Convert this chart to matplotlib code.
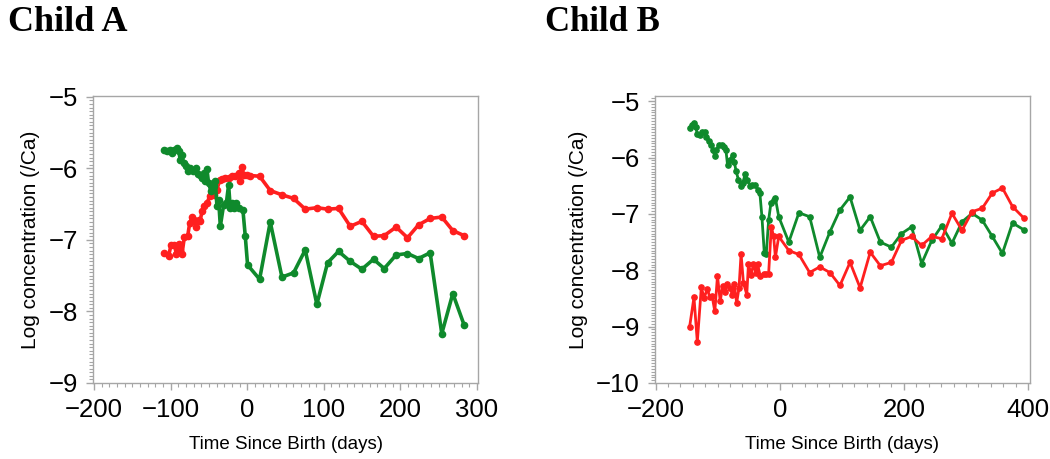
import matplotlib
matplotlib.use("Agg")
import matplotlib.pyplot as plt
import matplotlib.ticker as ticker

# ---------------- Child A ----------------
a_red_x = [-108.4, -102.7, -99.6, -95.3, -92.7, -89.6, -87.5, -85.3, -82.2, -77.9,
           -75.3, -72.2, -69.2, -66.6, -63.5, -61.4, -59.2, -57.0, -52.7, -49.2,
           -46.1, -43.1, -39.6, -36.1, -33.1, -28.7, -24.4, -20.0, -15.7, -11.3,
           -9.1, -7.0, -4.8, -0.4, 3.9, 16.1, 30.0, 45.3, 60.5, 75.7,
           90.9, 104.9, 119.2, 134.5, 149.7, 164.9, 178.9, 194.5, 209.3, 223.7,
           238.9, 254.1, 268.5, 283.3]
a_red_y = [-7.18, -7.22, -7.07, -7.07, -7.19, -7.06, -7.14, -7.20, -6.96, -6.95,
           -6.77, -6.68, -6.72, -6.82, -6.72, -6.73, -6.60, -6.53, -6.49, -6.39,
           -6.34, -6.37, -6.30, -6.16, -6.15, -6.14, -6.13, -6.11, -6.11, -6.07,
           -6.18, -5.98, -6.09, -6.09, -6.10, -6.11, -6.31, -6.37, -6.42, -6.57,
           -6.55, -6.57, -6.56, -6.81, -6.74, -6.95, -6.94, -6.82, -6.97, -6.79,
           -6.70, -6.68, -6.87, -6.94]

a_green_x = [-108.4, -104.9, -101.4, -98.3, -95.3, -91.8, -89.6, -87.5, -85.3, -83.1,
             -80.1, -77.9, -74.4, -70.9, -67.0, -64.8, -61.4, -59.2, -57.0, -54.8,
             -52.7, -50.5, -47.4, -44.0, -41.8, -39.6, -37.4, -35.2, -30.9, -27.4,
             -24.4, -22.2, -20.0, -17.8, -14.4, -11.3, -5.7, -2.6, 0.4, 16.1,
             30.0, 45.3, 60.5, 75.7, 90.9, 104.9, 119.2, 134.5, 149.7, 164.9,
             178.9, 194.5, 209.3, 223.7, 238.9, 254.1, 268.5, 283.3]
a_green_y = [-5.75, -5.76, -5.75, -5.78, -5.74, -5.71, -5.76, -5.88, -5.81, -5.93,
             -5.97, -6.03, -6.00, -6.04, -6.00, -6.08, -6.09, -6.13, -6.07, -6.18,
             -6.01, -6.21, -6.32, -6.25, -6.18, -6.53, -6.44, -6.81, -6.51, -6.49,
             -6.23, -6.56, -6.49, -6.56, -6.49, -6.56, -6.58, -6.95, -7.35, -7.55,
             -6.75, -7.52, -7.46, -7.14, -7.90, -7.32, -7.16, -7.30, -7.41, -7.27,
             -7.40, -7.21, -7.19, -7.26, -7.18, -8.31, -7.75, -8.19]

# ---------------- Child B ----------------
b_green_x = [-144.2, -140.9, -138.2, -135.5, -132.8, -129.0, -125.2, -120.9, -118.2, -114.4,
             -110.0, -107.3, -104.6, -101.9, -98.1, -93.8, -89.4, -86.7, -84.0, -80.2,
             -75.9, -73.2, -70.5, -66.7, -62.3, -59.6, -55.8, -52.0, -47.7, -43.9,
             -39.6, -35.2, -32.0, -28.7, -24.9, -21.7, -17.9, -14.1, -9.8, -7.0,
             -1.6, 14.6, 30.9, 48.2, 64.5, 80.8, 97.0, 113.3, 129.5, 145.8,
             162.1, 179.9, 196.2, 212.5, 228.7, 245.0, 261.2, 277.5, 293.8, 310.0,
             326.3, 342.5, 358.8, 375.1, 393.0]
b_green_y = [-5.48, -5.42, -5.38, -5.45, -5.59, -5.60, -5.55, -5.54, -5.63, -5.71,
             -5.78, -5.87, -5.98, -5.86, -5.78, -5.78, -5.81, -5.87, -6.14, -6.05,
             -5.95, -6.08, -6.23, -6.39, -6.51, -6.45, -6.30, -6.39, -6.51, -6.48,
             -6.49, -6.57, -6.63, -7.05, -7.69, -7.71, -7.11, -6.80, -6.75, -6.72,
             -7.05, -7.50, -6.98, -7.05, -7.77, -7.32, -6.93, -6.70, -7.29, -7.05,
             -7.50, -7.59, -7.35, -7.23, -7.88, -7.47, -7.21, -7.52, -7.14, -6.99,
             -7.11, -7.40, -7.70, -7.16, -7.28]

b_red_x = [-145.3, -138.2, -132.8, -126.3, -122.0, -116.5, -112.7, -108.9, -104.6, -100.3,
           -95.9, -92.1, -88.3, -84.6, -80.2, -76.4, -73.2, -69.4, -65.6, -62.3,
           -58.5, -53.1, -50.4, -46.1, -42.3, -38.5, -35.8, -31.4, -26.0, -21.7,
           -17.9, -13.6, -9.8, -7.0, -1.6, 14.6, 30.9, 48.2, 64.5, 80.8,
           97.0, 113.3, 129.5, 145.8, 162.1, 179.9, 196.2, 212.5, 228.7, 245.0,
           261.2, 277.5, 293.8, 310.0, 326.3, 342.5, 358.8, 375.1, 393.0]
b_red_y = [-9.01, -8.48, -9.27, -8.30, -8.49, -8.33, -8.48, -8.46, -8.73, -8.10,
           -8.55, -8.28, -8.39, -8.25, -8.31, -8.43, -8.25, -8.58, -8.31, -7.71,
           -8.22, -8.43, -7.89, -8.08, -7.89, -8.04, -7.89, -8.10, -8.07, -8.06,
           -8.06, -7.23, -7.40, -7.77, -7.40, -7.65, -7.72, -8.04, -7.94, -8.04,
           -8.27, -7.86, -8.31, -7.68, -7.92, -7.86, -7.47, -7.40, -7.56, -7.40,
           -7.44, -6.99, -7.29, -6.96, -6.90, -6.63, -6.54, -6.87, -7.07]

RED = "#ff1f1f"
GREEN = "#0f8a2c"
FRAME = "#a6a6a6"

plt.rcParams["font.family"] = ["Liberation Sans", "DejaVu Sans"]

fig = plt.figure(figsize=(10.5, 4.59), dpi=100)

axA = fig.add_axes([0.0886, 0.1656, 0.3667, 0.625])
axB = fig.add_axes([0.6238, 0.1656, 0.357, 0.625])


def style(ax, xlim, ylim, xmaj, xmin, yticks):
    ax.set_xlim(*xlim)
    ax.set_ylim(*ylim)
    ax.xaxis.set_major_locator(ticker.MultipleLocator(xmaj))
    ax.xaxis.set_minor_locator(ticker.MultipleLocator(xmin))
    ax.set_yticks(yticks)
    ax.yaxis.set_minor_locator(ticker.MultipleLocator(0.05))
    for s in ax.spines.values():
        s.set_color(FRAME)
        s.set_linewidth(1.0)
    ax.tick_params(which="major", length=5, width=1, color=FRAME,
                   labelsize=18.5, pad=6)
    ax.tick_params(which="minor", length=3, width=0.8, color=FRAME)
    ax.set_xlabel("Time Since Birth (days)", fontsize=13.5, labelpad=10)
    ax.set_ylabel("Log concentration (/Ca)", fontsize=15, labelpad=6)


# left plot
axA.plot(a_red_x, a_red_y, color=RED, lw=2.6, marker="o", ms=4.5)
axA.plot(a_green_x, a_green_y, color=GREEN, lw=2.6, marker="o", ms=4.5)
style(axA, (-201.5, 301.5), (-9.0, -4.99), 100, 10, [-9, -8, -7, -6, -5])

# right plot
axB.plot(b_green_x, b_green_y, color=GREEN, lw=2.0, marker="o", ms=3.8)
axB.plot(b_red_x, b_red_y, color=RED, lw=2.0, marker="o", ms=3.8)
style(axB, (-201, 403), (-10.0, -4.91), 200, 20, [-10, -9, -8, -7, -6, -5])

# panel titles
fig.text(8 / 1050, 1 - 31 / 459, "Child A", fontsize=26, fontweight="bold",
         family="Liberation Serif", va="baseline")
fig.text(545 / 1050, 1 - 31 / 459, "Child B", fontsize=25, fontweight="bold",
         family="Liberation Serif", va="baseline")

fig.savefig("out.png", dpi=100)
plt.close()
